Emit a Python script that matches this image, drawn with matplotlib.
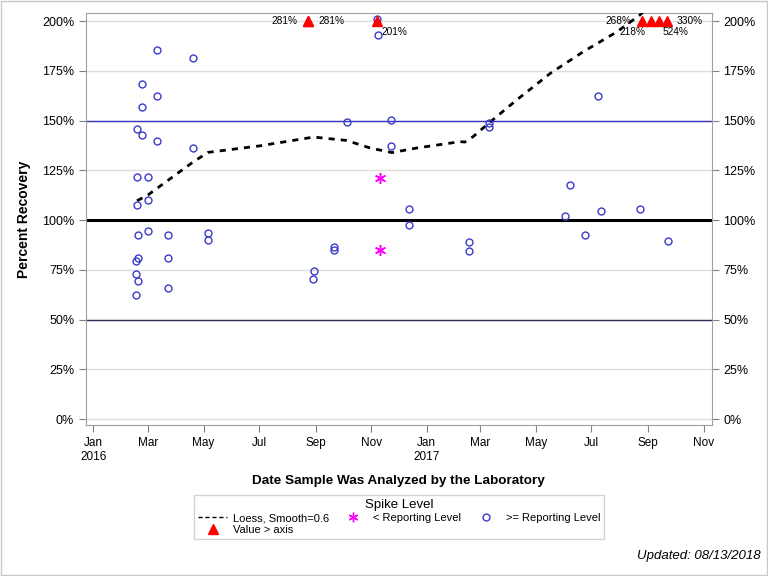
import pandas as pd
import matplotlib
matplotlib.use("Agg")
import matplotlib.pyplot as plt
from matplotlib.lines import Line2D
from matplotlib.ticker import FuncFormatter

plt.rcParams['font.family'] = ['Liberation Sans', 'DejaVu Sans']

# >= reporting level (circles)
circ_dates = ["2016-02-17", "2016-02-17", "2016-02-17",
              "2016-02-18", "2016-02-18", "2016-02-18",
              "2016-02-19", "2016-02-19", "2016-02-19",
              "2016-02-23", "2016-02-23", "2016-02-23",
              "2016-03-01", "2016-03-01", "2016-03-01",
              "2016-03-11", "2016-03-11", "2016-03-11",
              "2016-03-23", "2016-03-23", "2016-03-23",
              "2016-04-20", "2016-04-20",
              "2016-05-06", "2016-05-06",
              "2016-08-29", "2016-08-30",
              "2016-09-21", "2016-09-21",
              "2016-10-06",
              "2016-11-08", "2016-11-09",
              "2016-11-23", "2016-11-23",
              "2016-12-13", "2016-12-13",
              "2017-02-16", "2017-02-16",
              "2017-03-10", "2017-03-10",
              "2017-06-02", "2017-06-07", "2017-06-24", "2017-07-08",
              "2017-07-11", "2017-08-23", "2017-09-23"]
circ_vals = [62.5, 72.7, 79.5,
             145.7, 121.8, 107.8,
             92.6, 81.1, 69.5,
             168.3, 156.7, 142.7,
             121.8, 110.1, 94.6,
             185.3, 162.3, 139.7,
             92.6, 81.1, 66.0,
             181.3, 136.2,
             93.4, 90.1,
             70.3, 74.2,
             86.4, 85.1,
             149.2,
             201.0, 193.0,
             150.2, 137.2,
             105.3, 97.6,
             89.1, 84.6,
             149.0, 147.0,
             101.8, 117.6, 92.6, 162.3,
             104.6, 105.6, 89.6]

# < reporting level (stars)
star_dates = ["2016-11-11", "2016-11-11"]
star_vals = [121.2, 85.1]

# values above the axis (triangles drawn at the top)
tri_dates = ["2016-08-24", "2016-08-24", "2016-11-08",
             "2017-08-26", "2017-09-04", "2017-09-13", "2017-09-22"]
tri_actual = [281, 281, 201, 268, 218, 524, 330]
tri_label_pos = ["left", "right", "below_right", "left", "below_left", "below_right", "right"]
axis_max = 200

# loess curve (smooth=0.6)
loess_dates = ["2016-02-18", "2016-03-01", "2016-04-20", "2016-05-06", "2016-07-02",
               "2016-08-30", "2016-10-05", "2016-10-31", "2016-11-24", "2016-12-21",
               "2017-02-07", "2017-02-12", "2017-02-21", "2017-03-10", "2017-04-10",
               "2017-05-17", "2017-06-22", "2017-07-29", "2017-08-23", "2017-09-01"]
loess_vals = [109.7, 112.6, 129.3, 134.0, 137.3,
              141.7, 140.0, 136.2, 133.9, 136.2,
              139.4, 139.2, 141.9, 148.6, 160.4,
              173.8, 184.6, 194.6, 203.0, 207.0]

tick_dates = pd.date_range("2016-01-01", "2017-11-01", freq="2MS")
y_ticks = [0, 25, 50, 75, 100, 125, 150, 175, 200]

fig = plt.figure(figsize=(7.68, 5.76), dpi=100)
ax = fig.add_axes([0.112, 0.2622, 0.8147, 0.7147])

for v in y_ticks:
    ax.axhline(v, color="#dddddd", lw=1, zorder=0)
ax.axhline(100, color="black", lw=2.2, zorder=1)
ax.axhline(150, color="#3535c8", lw=1, zorder=1)
ax.axhline(50, color="#2a2a55", lw=1, zorder=1)

star = (6, 2, 0)

ax.plot(pd.to_datetime(loess_dates), loess_vals, color="black", lw=2,
        dashes=(2.2, 2.2), zorder=3)
ax.plot(pd.to_datetime(circ_dates), circ_vals, "o", ms=5, mfc="none",
        mec="#3b3bcc", mew=1, zorder=4, clip_on=False)
ax.plot(pd.to_datetime(star_dates), star_vals, ls="none", marker=star, ms=8, mew=1.1,
        color="#ff00ff", zorder=4)
ax.plot(pd.to_datetime(tri_dates), [axis_max] * len(tri_dates), "^", ms=7,
        color="red", zorder=5, clip_on=False)

offsets = {"left": ((-8, 0), "right", "center"),
           "right": ((7, 0), "left", "center"),
           "below_right": ((3, -4), "left", "top"),
           "below_left": ((-4, -4), "right", "top")}
for d, a, pos in zip(tri_dates, tri_actual, tri_label_pos):
    off, ha, va = offsets[pos]
    ax.annotate(f"{a}%", (pd.Timestamp(d), axis_max), xytext=off,
                textcoords="offset points", ha=ha, va=va, fontsize=7.3, zorder=6)

ax.set_xlim(pd.Timestamp("2015-12-24"), pd.Timestamp("2017-11-10"))
ax.set_ylim(-3.0, 203.9)
ax.set_yticks(y_ticks)
ax.yaxis.set_major_formatter(FuncFormatter(lambda v, p: f"{v:.0f}%"))
ax.set_xticks(tick_dates)
ax.set_xticklabels([f"{d:%b}\n{d:%Y}" if d.month == 1 else f"{d:%b}" for d in tick_dates],
                   fontsize=8.5)
ax.tick_params(axis="y", right=True, labelright=True, labelsize=9,
               color="#808080", length=5)
ax.tick_params(axis="x", color="#808080", length=5)
for s in ax.spines.values():
    s.set_color("#a0a0a0")

ax.set_ylabel("Percent Recovery", fontsize=10, fontweight="bold", labelpad=8)
ax.set_xlabel("Date Sample Was Analyzed by the Laboratory", fontsize=9.7,
              fontweight="bold", labelpad=9)

handles = [Line2D([], [], color="black", lw=1, dashes=(3, 2)),
           Line2D([], [], ls="none", marker="^", ms=6.5, color="red"),
           Line2D([], [], ls="none", marker=star, ms=7, mew=1, color="#ff00ff"),
           Line2D([], [], ls="none", marker="o", ms=5, mfc="none", mec="#3b3bcc")]
labels = ["Loess, Smooth=0.6", "Value > axis", "< Reporting Level", ">= Reporting Level"]
leg = fig.legend(handles, labels, ncol=3,
                 loc="upper center", bbox_to_anchor=(0.52, 0.1406), borderaxespad=0,
                 title="Spike Level", fontsize=8, title_fontsize=9.5,
                 frameon=True, fancybox=False, edgecolor="#c8c8c8",
                 handlelength=2.6, columnspacing=0.9, borderpad=0.35,
                 labelspacing=0.2, handletextpad=0.5)
leg.get_frame().set_linewidth(1)

fig.text(0.99, 0.035, "Updated: 08/13/2018", ha="right", va="center",
         fontsize=9.5, style="italic")
fig.patches.append(plt.Rectangle((0.001, 0.001), 0.998, 0.997, transform=fig.transFigure,
                                 fill=False, edgecolor="#c8c8c8", lw=1))

fig.savefig("out.png", dpi=100)
